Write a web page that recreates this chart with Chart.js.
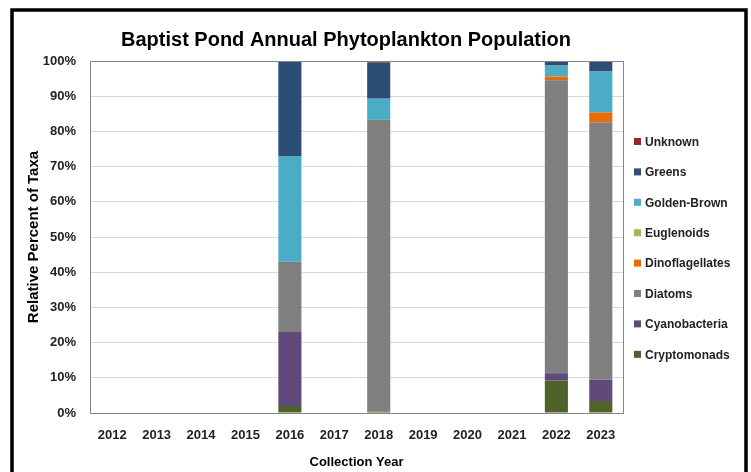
<!DOCTYPE html>
<html>
<head>
<meta charset="utf-8">
<script src="https://cdn.jsdelivr.net/npm/chart.js@4"></script>
<style>
  html, body { margin: 0; padding: 0; background: #fff; }
  #wrap { width: 751px; height: 472px; }
</style>
</head>
<body>
<div id="wrap"><canvas id="chart" width="751" height="472"></canvas></div>
<script>
/* --------------- Data --------------------- */
const years = ["2012", "2013", "2014", "2015", "2016", "2017", "2018", "2019", "2020", "2021", "2022", "2023"];

// percent of taxa per year (empty years = no sample)
const cryptomonads    = [null, null, null, null, 2,  null, 0.4,  null, null, null, 9.2,  3.4];
const cyanobacteria   = [null, null, null, null, 21, null, 0,    null, null, null, 2.1,  6.1];
const diatoms         = [null, null, null, null, 20, null, 82.9, null, null, null, 83.2, 73];
const dinoflagellates = [null, null, null, null, 0,  null, 0,    null, null, null, 1.1,  2.9];
const euglenoids      = [null, null, null, null, 0,  null, 0,    null, null, null, 0,    0];
const goldenBrown     = [null, null, null, null, 30, null, 6,    null, null, null, 3.1,  11.6];
const greens          = [null, null, null, null, 27, null, 10.2, null, null, null, 1.3,  3];
const unknown         = [null, null, null, null, 0,  null, 0.5,  null, null, null, 0,    0];

const yTicks = [0, 10, 20, 30, 40, 50, 60, 70, 80, 90, 100];

/* --------------- Colors --------------------- */
const taxaColors = {
  Cryptomonads: "#4f6228",
  Cyanobacteria: "#604a7b",
  Diatoms: "#7f7f7f",
  Dinoflagellates: "#e46c0a",
  Euglenoids: "#9bbb59",
  "Golden-Brown": "#4bacc6",
  Greens: "#2c4d75",
  Unknown: "#8b2c20",
};

const FONT = "'Liberation Sans', Arial, sans-serif";

const series = [
  ["Cryptomonads", cryptomonads],
  ["Cyanobacteria", cyanobacteria],
  ["Diatoms", diatoms],
  ["Dinoflagellates", dinoflagellates],
  ["Euglenoids", euglenoids],
  ["Golden-Brown", goldenBrown],
  ["Greens", greens],
  ["Unknown", unknown],
];

/* --------------- Frame, title and legend --------------------- */
const decor = {
  id: "decor",
  beforeDraw(chart) {
    const ctx = chart.ctx;
    ctx.save();
    ctx.fillStyle = "#fff";
    ctx.fillRect(0, 0, chart.width, chart.height);
    ctx.restore();
  },
  afterDatasetsDraw(chart) {
    const { ctx, chartArea: a } = chart;
    ctx.save();
    ctx.strokeStyle = "#868686";
    ctx.lineWidth = 1;
    ctx.strokeRect(a.left + 0.5, a.top + 0.5, a.right - a.left, a.bottom - a.top);
    ctx.restore();
  },
  afterDraw(chart) {
    const ctx = chart.ctx;
    ctx.save();
    // outer black frame
    ctx.strokeStyle = "#000";
    ctx.lineWidth = 3.5;
    ctx.strokeRect(12, 10, 734, 500);

    // title
    ctx.fillStyle = "#000";
    ctx.font = "bold 20px " + FONT;
    ctx.textAlign = "center";
    ctx.textBaseline = "middle";
    ctx.fillText("Baptist Pond Annual Phytoplankton Population", 346, 40);

    // legend, top item = last dataset
    ctx.font = "bold 12px " + FONT;
    ctx.textAlign = "left";
    const ds = chart.data.datasets.slice().reverse();
    ds.forEach((d, i) => {
      const y = 142 + i * 30.4;
      ctx.fillStyle = d.backgroundColor;
      ctx.fillRect(634, y - 4, 7, 7);
      ctx.fillStyle = "#222";
      ctx.fillText(d.label, 645, y + 0.5);
    });
    ctx.restore();
  },
};

/* --------------- Chart --------------------- */
new Chart(document.getElementById("chart"), {
  type: "bar",
  plugins: [decor],
  data: {
    labels: years,
    datasets: series.map(([name, vals]) => ({
      label: name,
      data: vals,
      backgroundColor: taxaColors[name],
      borderWidth: 0,
      barPercentage: 0.52,
      categoryPercentage: 1,
    })),
  },
  options: {
    responsive: false,
    animation: false,
    layout: { padding: { left: 14, top: 61, right: 128, bottom: 0 } },
    plugins: {
      legend: { display: false },
      title: { display: false },
      tooltip: { enabled: false },
    },
    scales: {
      x: {
        stacked: true,
        grid: { display: false, drawTicks: false },
        border: { display: false },
        ticks: { color: "#222", padding: 15, font: { family: FONT, size: 13, weight: "bold" }, maxRotation: 0 },
        title: { display: true, text: "Collection Year", color: "#000", padding: { top: 0, bottom: 2 }, font: { family: FONT, size: 13, weight: "bold" } },
        afterFit: (s) => { s.height = 59; },
      },
      y: {
        stacked: true,
        min: 0,
        max: 100,
        afterBuildTicks: (s) => { s.ticks = yTicks.map((v) => ({ value: v })); },
        grid: { color: "#d9d9d9", drawTicks: false },
        border: { display: false },
        ticks: { color: "#222", padding: 14, font: { family: FONT, size: 13, weight: "bold" }, callback: (v) => v + "%" },
        title: { display: true, text: "Relative Percent of Taxa", color: "#000", padding: { top: 11, bottom: 0 }, font: { family: FONT, size: 15, weight: "bold" } },
        afterFit: (s) => { s.width = 76; },
      },
    },
  },
});
</script>
</body>
</html>
